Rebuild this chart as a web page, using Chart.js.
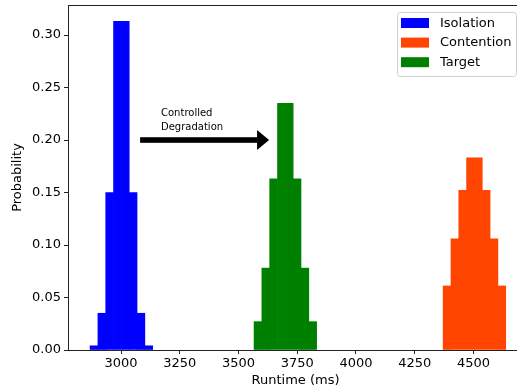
<!DOCTYPE html>
<html>
<head>
<meta charset="utf-8">
<style>
  html, body { margin: 0; padding: 0; background: #fff; overflow: hidden; }
  #wrap { width: 530px; height: 392px; }
</style>
</head>
<body>
<div id="wrap"><canvas id="histChart" width="530" height="392"></canvas></div>
<script src="https://cdn.jsdelivr.net/npm/chart.js"></script>
<script>
// bin centres (ms) and probability per bin
const isolationBins = [2884.7, 2918.0, 2951.3, 2984.6, 3017.9, 3051.2, 3084.5, 3117.8];
const isolationProb = [0.004, 0.035, 0.150, 0.313, 0.313, 0.150, 0.035, 0.004];
const contentionBins = [4387.7, 4421.0, 4454.3, 4487.6, 4520.9, 4554.2, 4587.5, 4620.8];
const contentionProb = [0.061, 0.106, 0.152, 0.183, 0.183, 0.152, 0.106, 0.061];
const targetBins = [3582.7, 3616.0, 3649.3, 3682.6, 3715.9, 3749.2, 3782.5, 3815.8];
const targetProb = [0.027, 0.078, 0.163, 0.235, 0.235, 0.163, 0.078, 0.027];

const xTickValues = [3000, 3250, 3500, 3750, 4000, 4250, 4500];
const yTickValues = [0, 0.05, 0.10, 0.15, 0.20, 0.25, 0.30];

const seriesNames = ['Isolation', 'Contention', 'Target'];
const seriesColors = ['#0000ff', '#ff4500', '#008000'];

function toPoints(bins, probs) {
    return bins.map((b, i) => ({ x: b, y: probs[i] }));
}

Chart.defaults.font.family = 'DejaVu Sans';
Chart.defaults.font.size = 13;
Chart.defaults.color = '#000';

// top spine (right one falls outside the window)
const framePlugin = {
    id: 'frame',
    afterDraw(chart) {
        const a = chart.chartArea;
        const ctx = chart.ctx;
        ctx.save();
        ctx.strokeStyle = '#222';
        ctx.lineWidth = 1;
        ctx.beginPath();
        const t = Math.round(a.top) + 0.5;
        ctx.moveTo(a.left, t);
        ctx.lineTo(a.right, t);
        ctx.stroke();
        ctx.restore();
    }
};

// arrow + "Controlled Degradation" label
const arrowPlugin = {
    id: 'arrow',
    afterDatasetsDraw(chart) {
        const xs = chart.scales.x, ys = chart.scales.y;
        const ctx = chart.ctx;
        const x0 = xs.getPixelForValue(3081);
        const x1 = xs.getPixelForValue(3630);
        const y = ys.getPixelForValue(0.20);
        ctx.save();
        ctx.fillStyle = '#000';
        ctx.fillRect(x0, y - 2.8, (x1 - 12) - x0, 5.6);
        ctx.beginPath();
        ctx.moveTo(x1 - 12, y - 10);
        ctx.lineTo(x1, y);
        ctx.lineTo(x1 - 12, y + 10);
        ctx.closePath();
        ctx.fill();
        ctx.font = '10px "DejaVu Sans"';
        ctx.textBaseline = 'alphabetic';
        const tx = xs.getPixelForValue(3170);
        ctx.fillText('Controlled', tx, y - 24);
        ctx.fillText('Degradation', tx, y - 10.5);
        ctx.restore();
    }
};

const legendPlugin = {
    id: 'boxLegend',
    afterDraw(chart) {
        const a = chart.chartArea;
        const ctx = chart.ctx;
        const w = 119, h = 64;
        const bx = a.right - 7 - w, by = a.top + 7;
        ctx.save();
        ctx.fillStyle = 'rgba(255,255,255,0.8)';
        ctx.strokeStyle = '#d0d0d0';
        ctx.lineWidth = 1;
        ctx.beginPath();
        ctx.roundRect(bx + 0.5, by + 0.5, w, h, 3);
        ctx.fill();
        ctx.stroke();
        ctx.font = '13px "DejaVu Sans"';
        ctx.textBaseline = 'middle';
        seriesNames.forEach((name, i) => {
            const cy = by + 11 + i * 19.6;
            ctx.fillStyle = seriesColors[i];
            ctx.fillRect(bx + 4, cy - 5, 28, 10);
            ctx.fillStyle = '#000';
            ctx.fillText(name, bx + 43, cy + 0.5);
        });
        ctx.restore();
    }
};

const ctx = document.getElementById('histChart').getContext('2d');
new Chart(ctx, {
    type: 'bar',
    data: {
        datasets: [
            { label: seriesNames[0], data: toPoints(isolationBins, isolationProb), backgroundColor: seriesColors[0] },
            { label: seriesNames[1], data: toPoints(contentionBins, contentionProb), backgroundColor: seriesColors[1] },
            { label: seriesNames[2], data: toPoints(targetBins, targetProb), backgroundColor: seriesColors[2] }
        ]
    },
    options: {
        responsive: false,
        animation: false,
        devicePixelRatio: 1,
        layout: { padding: { top: 5, right: 7, left: 0, bottom: 0 } },
        datasets: {
            bar: { barPercentage: 1, categoryPercentage: 1, borderWidth: 0 }
        },
        plugins: {
            legend: { display: false },
            tooltip: { enabled: false }
        },
        scales: {
            x: {
                type: 'linear',
                min: 2774,
                max: 4711,
                offset: false,
                stacked: true,
                afterBuildTicks: s => { s.ticks = xTickValues.map(v => ({ value: v })); },
                afterFit: s => { s.height = 42; s.paddingLeft = 0; s.paddingRight = 0; },
                ticks: { callback: v => String(v), padding: 2, maxRotation: 0 },
                grid: { offset: false, drawOnChartArea: false, tickLength: 4, color: '#222' },
                border: { color: '#222', width: 1 },
                title: { display: true, text: 'Runtime (ms)', padding: { top: 0, bottom: 4 } }
            },
            y: {
                min: 0,
                max: 0.3286,
                stacked: true,
                afterBuildTicks: s => { s.ticks = yTickValues.map(v => ({ value: v })); },
                afterFit: s => { s.width = 68; s.paddingTop = 0; s.paddingBottom = 0; },
                ticks: { callback: v => v.toFixed(2), padding: 3 },
                grid: { drawOnChartArea: false, tickLength: 4, color: '#222' },
                border: { color: '#222', width: 1 },
                title: { display: true, text: 'Probability', padding: { top: 10, bottom: 0 } }
            }
        }
    },
    plugins: [framePlugin, arrowPlugin, legendPlugin]
});
</script>
</body>
</html>
